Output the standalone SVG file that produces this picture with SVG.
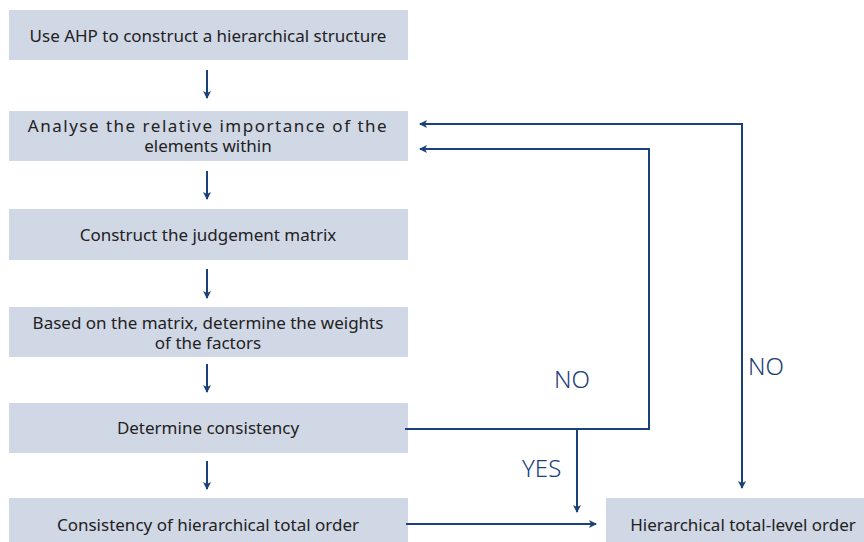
<svg xmlns="http://www.w3.org/2000/svg" width="864" height="542" viewBox="0 0 864 542">
<style>
.box{fill:#d0d7e5}
.t{font-family:"Source Sans Pro","Noto Sans","Liberation Sans",sans-serif;font-size:17px;fill:#222;text-anchor:middle}
.c{fill:none;stroke:#1a4178;stroke-width:2}
.lbl{font-family:"Noto Sans","Liberation Sans",sans-serif;font-size:24px;fill:#1a4178;font-weight:300}
</style>
<defs>
<marker id="ah" viewBox="0 0 8 8" refX="7" refY="4" markerWidth="4" markerHeight="4" orient="auto-start-reverse" markerUnits="strokeWidth">
<path d="M0,0 L8,4 L0,8 L2,4 Z" fill="#1a4178"/>
</marker>
</defs>
<rect width="864" height="542" fill="#fff"/>
<g id="n1"><rect class="box" x="9" y="10" width="399" height="50"/><text class="t" x="208" y="42">Use AHP to construct a hierarchical structure</text></g>
<g id="n2"><rect class="box" x="9" y="111" width="399" height="50"/><text class="t" x="208" y="132" letter-spacing="1.5">Analyse the relative importance of the</text><text class="t" x="208" y="152">elements within</text></g>
<g id="n3"><rect class="box" x="9" y="209" width="399" height="51"/><text class="t" x="208" y="241">Construct the judgement matrix</text></g>
<g id="n4"><rect class="box" x="9" y="307" width="399" height="50"/><text class="t" x="208" y="329">Based on the matrix, determine the weights</text><text class="t" x="208" y="349">of the factors</text></g>
<g id="n5"><rect class="box" x="9" y="403" width="399" height="50"/><text class="t" x="208" y="434">Determine consistency</text></g>
<g id="n6"><rect class="box" x="9" y="498" width="399" height="50"/><text class="t" x="208" y="531">Consistency of hierarchical total order</text></g>
<g id="n7"><rect class="box" x="606" y="498" width="264" height="50"/><text class="t" x="743" y="531">Hierarchical total-level order</text></g>
<g id="connectors">
<path class="c" d="M207,70 V98" marker-end="url(#ah)"/>
<path class="c" d="M207,171 V199" marker-end="url(#ah)"/>
<path class="c" d="M207,269 V298" marker-end="url(#ah)"/>
<path class="c" d="M207,364 V392" marker-end="url(#ah)"/>
<path class="c" d="M207,461 V489" marker-end="url(#ah)"/>
<path class="c" d="M742,488 V124 H420" marker-start="url(#ah)" marker-end="url(#ah)"/>
<path class="c" d="M405,429 H649 V149 H420" marker-end="url(#ah)"/>
<path class="c" d="M577,429 V512" marker-end="url(#ah)"/>
<path class="c" d="M406,524 H596" marker-end="url(#ah)"/>
</g>
<text class="lbl" x="554" y="388">NO</text>
<text class="lbl" x="748" y="375">NO</text>
<text class="lbl" x="522" y="477">YES</text>
</svg>
